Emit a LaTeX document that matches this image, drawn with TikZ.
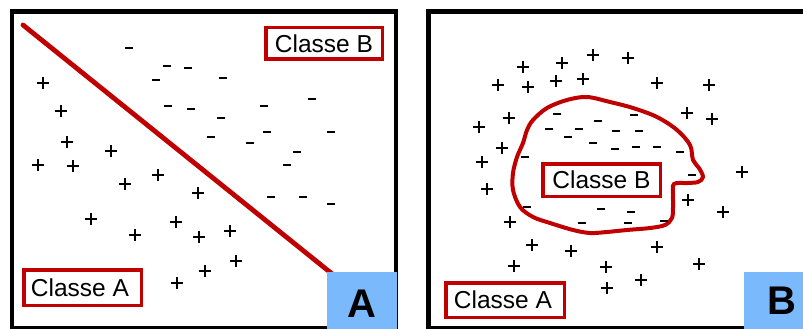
\documentclass[tikz,border=0pt]{standalone}
\usepackage{fontspec}
\setmainfont{Liberation Sans}
\definecolor{sepred}{RGB}{192,0,0}
\definecolor{tagblue}{RGB}{122,186,252}
\tikzset{
  frame/.style={draw=black, line width=4.5pt},
  cbox/.style={draw=sepred, line width=3.5pt, fill=white, inner sep=0pt,
               font=\fontsize{24.5}{28}\selectfont},
  tagsq/.style={fill=tagblue, draw=none},
  tagletter/.style={font=\fontsize{40}{44}\selectfont\bfseries, inner sep=0pt},
  plussign/.pic={\draw[line width=2.2pt] (-5.7,0)--(5.7,0) (0,-5.7)--(0,5.7);},
  minussign/.pic={\draw[line width=2.3pt] (-3.9,0)--(3.9,0);}
}
\begin{document}
\begin{tikzpicture}[x=1pt,y=-1pt]
\useasboundingbox (0,0) rectangle (803,329);
\clip (0,0) rectangle (803,329);
\fill[white] (0,0) rectangle (803,329);

% frames
\draw[frame] (12,11.7) rectangle (395.8,328);
\draw[frame] (428.3,11.7) rectangle (812,328);

% panel A separating line
\coordinate (lstart) at (23,25);
\coordinate (lend) at (336,277);
\draw[sepred, line width=4.8pt, line cap=round] (lstart) -- (lend);

% panel A marks
\foreach \px/\py in {43/83,61/111,67/142,111/151,38/165,73/166,125/184,158/175,198/193,
  91/219,135/235,176/222,199/237,230/231,236/261,205/271,177/283}
  \pic at (\px,\py) {plussign};
\foreach \px/\py in {129/48,167/66,188/68,156/80,223/78,168/106,191/109,221/118,264/106,
  312/99,211/137,250/143,267/132,331/132,297/152,287/165,271/197,303/197,331/204}
  \pic at (\px,\py) {minussign};

% panel B blob
\draw[sepred, line width=4pt] plot[smooth cycle, tension=0.55] coordinates {
  (587,97) (610,102) (633,108) (657,117) (677,130) (690,145) (693,160) (699,168)
  (703,177) (698,182) (687,183) (674,184) (673,195) (673,207) (672,218) (665,225)
  (650,228) (627,230) (607,232) (590,233) (573,230) (550,223) (533,217) (520,207)
  (513,190) (513,173) (517,157) (523,143) (527,130) (533,120) (547,108) (567,100)};

% panel B marks
\foreach \px/\py in {523/67,562/63,593/55,628/58,498/85,528/87,556/81,583/79,657/83,
  709/85,509/118,479/127,687/113,712/119,502/148,482/162,742/172,487/189,688/200,
  723/212,510/222,532/245,571/251,657/247,514/266,606/267,699/264,641/280,607/288}
  \pic at (\px,\py) {plussign};
\foreach \px/\py in {557/114,598/121,634/115,549/129,579/129,568/137,616/131,639/131,
  593/143,615/149,636/147,657/147,680/152,525/157,692/175,527/207,601/209,631/212,
  628/223,582/223,664/221}
  \pic at (\px,\py) {minussign};

% class boxes
\node[cbox, minimum width=116.5pt, minimum height=31.5pt] (bA) at (324,43.5) {Classe B};
\node[cbox, minimum width=117.5pt, minimum height=35.5pt] (aA) at (82.5,287.5) {\hspace*{-5pt}Classe A};
\node[cbox, minimum width=117.5pt, minimum height=32.5pt] (bB) at (601.5,180) {Classe B};
\node[cbox, minimum width=118.5pt, minimum height=34.5pt] (aB) at (505,300) {\hspace*{-4pt}Classe A};

% panel tags
\fill[tagsq] (327,272) rectangle (397,329);
\fill[tagsq] (744,272) rectangle (803,329);
\node[tagletter] (tA) at (361.5,303.5) {A};
\node[tagletter] (tB) at (781.5,300.5) {B};
\end{tikzpicture}
\end{document}
